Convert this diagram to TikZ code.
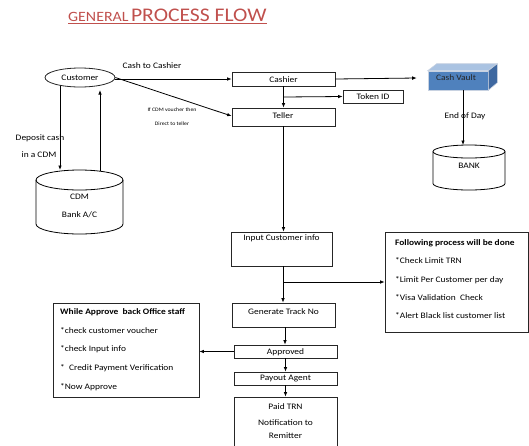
\documentclass[tikz,border=0pt]{standalone}
\usepackage{fontspec}
\setmainfont[FakeStretch=1.12]{Carlito}
\usetikzlibrary{arrows.meta,calc,shapes.geometric}
\definecolor{titlered}{RGB}{192,80,77}
\definecolor{vaultfront}{RGB}{79,129,189}
\definecolor{vaulttop}{RGB}{170,195,226}
\definecolor{vaultside}{RGB}{62,104,160}
\definecolor{vaultedge}{RGB}{200,210,225}
\begin{document}
\begin{tikzpicture}[x=1pt,y=-1pt,
  box/.style={draw=black!85,line width=0.8pt,inner sep=0pt,fill=white},
  txt/.style={font=\fontsize{8.4}{10}\selectfont,inner sep=0pt},
  btxt/.style={font=\fontsize{8.4}{10}\selectfont\bfseries,inner sep=0pt},
  tiny/.style={font=\fontsize{5.2}{6}\selectfont,inner sep=0pt},
  arr/.style={line width=0.8pt,-{Latex[length=4.5pt,width=3.6pt]}},
  ln/.style={line width=0.8pt}]
\useasboundingbox (0,0) rectangle (529,445);

% title
\node[anchor=base west,text=titlered,inner sep=0pt] (title) at (68,21)
  {\fontsize{14.2}{15}\selectfont GENERAL\kern2.5pt\fontsize{19.3}{20}\selectfont PROCESS FLOW};
\draw[titlered,line width=0.8pt] ($(title.base west)+(0,2)$) -- ($(title.base east)+(0,2)$);

% customer
\node[ellipse,draw=black!85,line width=0.8pt,minimum width=70pt,minimum height=19pt,inner sep=0pt] (cust) at (80,77.5) {};
\node[txt] at (80,77.5) {Customer};

% cashier, teller, token
\node[box,minimum width=103pt,minimum height=14pt] (cashier) at (283.5,79) {};
\node[txt] at (283.5,79.5) {Cashier};
\node[box,minimum width=103pt,minimum height=18pt] (teller) at (283.5,117) {};
\node[txt] at (283,115.5) {Teller};
\node[box,minimum width=60pt,minimum height=13pt] (token) at (373,96.5) {};
\node[txt] at (373,96.5) {Token ID};

% cash vault (3D box)
\node[draw=vaultedge,line width=0.6pt,fill=vaultfront,minimum width=60pt,minimum height=19pt,inner sep=0pt] (vault) at (458,80.5) {};
\fill[vaulttop,draw=vaultedge,line width=0.6pt] (vault.north west) -- ++(9,-7) -- ++(60,0) -- (vault.north east) -- cycle;
\fill[vaultside,draw=vaultedge,line width=0.6pt] (vault.north east) -- ++(9,-7) -- ++(0,19) -- (vault.south east) -- cycle;
\node[txt,text=black!85] at (456,78) {Cash Vault};

% bank cylinder
\fill[white] (433,151.5) rectangle (505,183.5);
\draw[ln] (433,151.5) -- (433,183.5) arc[start angle=180,end angle=0,x radius=36,y radius=6.5] -- (505,151.5);
\draw[ln] (469,151.5) ellipse[x radius=36,y radius=6.5];
\node[inner sep=0pt,minimum width=72pt,minimum height=45pt] (bank) at (469,167.5) {};
\node[txt] at (469,166) {BANK};

% CDM cylinder
\draw[ln] (36,180) -- (36,224) arc[start angle=180,end angle=0,x radius=43.5,y radius=10] -- (123,180);
\draw[ln] (79.5,180) ellipse[x radius=43.5,y radius=10];
\node[inner sep=0pt,minimum width=87pt,minimum height=64pt] (cdm) at (79.5,202) {};
\node[txt] at (79.5,197) {CDM};
\node[txt] at (79.5,215) {Bank A/C};

% lower flow
\node[box,minimum width=101pt,minimum height=34pt] (input) at (281.5,249) {};
\node[txt] at (281.5,238.5) {Input Customer info};
\node[box,minimum width=103pt,minimum height=24pt] (gen) at (283.5,315) {};
\node[txt] at (283.5,311.5) {Generate Track No};
\node[box,minimum width=103pt,minimum height=13pt] (appr) at (285.5,351.5) {};
\node[txt] at (285.5,352) {Approved};
\node[box,minimum width=103pt,minimum height=13pt] (pay) at (285.5,378.5) {};
\node[txt] at (285.5,379) {Payout Agent};
\node[box,minimum width=103pt,minimum height=50pt] (paid) at (285.5,422) {};
\node[txt] at (285.5,407) {Paid TRN};
\node[txt] at (285.5,423) {Notification to};
\node[txt] at (285.5,436) {Remitter};

% following box
\node[box,minimum width=143pt,minimum height=100pt] (follow) at (456.5,282) {};
\node[btxt,anchor=west] at (395,243) {Following process will be done};
\node[txt,anchor=west] at (395,261) {*Check Limit TRN};
\node[txt,anchor=west] at (395,280) {*Limit Per Customer per day};
\node[txt,anchor=west] at (395,298) {*Visa Validation\ \ Check};
\node[txt,anchor=west] at (395,316) {*Alert Black list customer list};

% while box
\node[box,minimum width=146pt,minimum height=94pt] (while) at (126,350) {};
\node[btxt,anchor=west] at (60,312) {While Approve\ \ back Office staff};
\node[txt,anchor=west] at (60,331) {*check customer voucher};
\node[txt,anchor=west] at (60,349.5) {*check Input info};
\node[txt,anchor=west] at (60,368.5) {*\ \ Credit Payment Verification};
\node[txt,anchor=west] at (60,387) {*Now Approve};

% labels
\node[txt] at (152,66) {Cash to Cashier};
\node[tiny] at (172,109.5) {If CDM voucher then};
\node[tiny] at (172,123.5) {Direct to teller};
\node[txt] at (40,138) {Deposit cash};
\node[txt] at (39,155) {in a CDM};
\node[txt] at (465,116) {End of Day};

% connectors
\draw[arr] (cust.east |- cashier.west) -- (cashier.west);
\draw[arr] (cust.east) -- ($(teller.west)+(0,-1)$);
\draw[arr] (cashier.east) -- ($(vault.west)+(-11,-2.5)$);
\draw[arr] (cashier.south) -- (teller.north);
\coordinate (tk) at (283.5,97);
\draw[arr] (tk) -- (token.west);
\draw[arr] (vault.south -| 463,0) -- (463,145);
\coordinate (d1) at (60,85.5);
\coordinate (d2) at (60,170);
\draw[arr] (d1) -- (d2);
\coordinate (u1) at (100,171);
\coordinate (u2) at (100,90);
\draw[arr] (u1) -- (u2);
\draw[arr] (teller.south) -- (teller.south |- input.north);
\draw[arr] (input.south -| 283,0) -- (gen.north -| 283,0);
\coordinate (br) at (283,282);
\draw[arr] (br) -- (follow.west);
\draw[arr] (gen.south -| 285,0) -- (appr.north -| 285,0);
\draw[arr] (appr.west) -- (while.east |- appr.west);
\draw[arr] (appr.south) -- (pay.north);
\draw[arr] (pay.south) -- (paid.north);
\end{tikzpicture}
\end{document}
